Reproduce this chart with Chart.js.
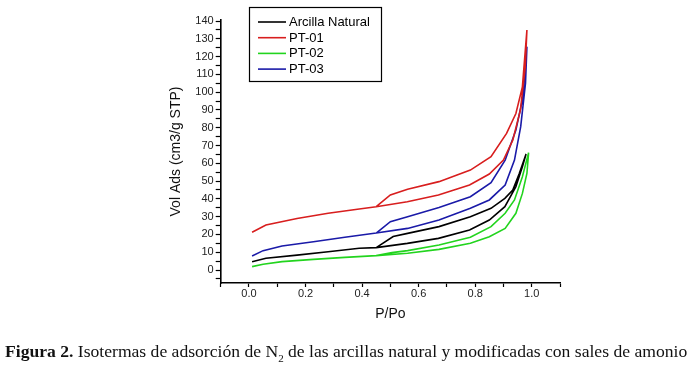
<!DOCTYPE html>
<html>
<head>
<meta charset="utf-8">
<script src="https://cdn.jsdelivr.net/npm/chart.js@4.4.1/dist/chart.umd.min.js"></script>
<style>
  html, body { margin: 0; padding: 0; background: #fff; }
  #wrap { position: relative; width: 700px; height: 367px; }
  #caption {
    position: absolute; left: 5px; top: 341px; width: 695px;
    font-family: "Liberation Serif", serif; font-size: 17.6px; color: #111;
    white-space: nowrap;
  }
</style>
</head>
<body>
<div id="wrap">
  <canvas id="isotermas" width="700" height="367"></canvas>
  <div id="caption"><b>Figura 2.</b> Isotermas de adsorción de N<sub style="font-size:11px">2</sub> de las arcillas natural y modificadas con sales de amonio</div>
</div>
<script>
// series labels and colours
const labels = ['Arcilla Natural', 'PT-01', 'PT-02', 'PT-03'];
const colores = ['#000000', '#d81e1e', '#22d41e', '#1a1aa8'];

// P/Po and Vol Ads: adsorption branch up, then desorption branch back down
const naturalP = [0.011, 0.06, 0.17, 0.28, 0.39, 0.45, 0.56, 0.67, 0.78, 0.85, 0.905, 0.944, 0.967, 0.98,
                  0.956, 0.933, 0.905, 0.856, 0.783, 0.672, 0.561, 0.51, 0.45];
const naturalV = [4.7, 6.6, 8.4, 10.3, 12.2, 12.6, 15, 17.8, 22.5, 28.1, 35.6, 46.9, 58, 65.2,
                  54.3, 45, 40.3, 34.7, 30, 24.4, 20.6, 18.8, 12.6];

const pt01P = [0.011, 0.06, 0.17, 0.28, 0.39, 0.45, 0.56, 0.67, 0.78, 0.85, 0.9, 0.933, 0.96, 0.977, 0.983,
               0.967, 0.944, 0.911, 0.856, 0.783, 0.672, 0.561, 0.5, 0.45];
const pt01V = [21.2, 25.3, 29, 31.9, 34.3, 35.6, 38.4, 42.2, 47.8, 54, 61.8, 73, 90, 114, 135,
               103, 88, 76.8, 63.7, 56.2, 49.7, 45.4, 42.2, 35.6];

const pt02P = [0.011, 0.05, 0.117, 0.228, 0.339, 0.45, 0.561, 0.672, 0.783, 0.85, 0.906, 0.944, 0.967, 0.983, 0.989,
               0.967, 0.939, 0.906, 0.856, 0.783, 0.672, 0.561, 0.506, 0.45];
const pt02V = [1.9, 3.2, 4.7, 6, 7.1, 8.1, 9.4, 11.6, 15, 18.7, 23.4, 31.9, 43.1, 54.3, 66,
               52.5, 39.4, 31.9, 24.4, 18.4, 14.1, 10.9, 9.8, 8.1];

const pt03P = [0.011, 0.05, 0.117, 0.228, 0.339, 0.45, 0.561, 0.672, 0.783, 0.85, 0.906, 0.939, 0.961, 0.978, 0.983,
               0.967, 0.944, 0.906, 0.856, 0.783, 0.672, 0.561, 0.5, 0.45];
const pt03V = [7.9, 10.9, 13.5, 15.9, 18.4, 20.8, 23.4, 28.1, 34.7, 39.4, 47.8, 61.8, 80.6, 105, 125.6,
               95.6, 78.7, 61.8, 49.1, 41.2, 35.2, 30, 27.2, 20.8];

const series = [[naturalP, naturalV], [pt01P, pt01V], [pt02P, pt02V], [pt03P, pt03V]];

const datasets = series.map((s, i) => ({
    label: labels[i],
    data: s[0].map((p, j) => ({ x: p, y: s[1][j] })),
    borderColor: colores[i],
    backgroundColor: colores[i],
    borderWidth: 1.6,
    pointRadius: 0,
    tension: 0,
    fill: false
}));

// legend box drawn inside the plot, like the original figure
const leyendaCaja = {
    id: 'leyendaCaja',
    afterDraw(chart) {
        const ctx = chart.ctx;
        ctx.save();
        ctx.strokeStyle = '#000';
        ctx.lineWidth = 1.2;
        ctx.strokeRect(249.5, 7.5, 132, 74);
        ctx.font = '13px "Liberation Sans", Arial, sans-serif';
        ctx.textBaseline = 'middle';
        chart.data.datasets.forEach((d, i) => {
            const y = 22 + i * 15.7;
            ctx.strokeStyle = d.borderColor;
            ctx.lineWidth = 1.6;
            ctx.beginPath();
            ctx.moveTo(258, y);
            ctx.lineTo(286, y);
            ctx.stroke();
            ctx.fillStyle = '#000';
            ctx.fillText(d.label, 289, y + 0.5);
        });
        ctx.restore();
    }
};

const fuente = { family: '"Liberation Sans", Arial, sans-serif', size: 11 };

new Chart(document.getElementById('isotermas'), {
    type: 'line',
    data: { datasets: datasets },
    options: {
        responsive: false,
        animation: false,
        layout: { padding: { left: 164, right: 140, top: 20, bottom: 40 } },
        plugins: {
            legend: { display: false },
            tooltip: { enabled: false }
        },
        scales: {
            x: {
                type: 'linear',
                min: -0.1,
                max: 1.1,
                afterFit: (s) => { s.height = 44; },
                border: { color: '#000', width: 1.6 },
                grid: { drawOnChartArea: false, color: '#000', tickLength: 4, tickWidth: 1.2 },
                ticks: {
                    stepSize: 0.1,
                    color: '#222',
                    font: fuente,
                    padding: 0,
                    maxRotation: 0,
                    autoSkip: false,
                    includeBounds: false,
                    callback: (v) => {
                        const k = Math.round(v * 10);
                        return (k % 2 === 0 && k >= 0 && k <= 10) ? v.toFixed(1) : '';
                    }
                },
                title: {
                    display: true,
                    text: 'P/Po',
                    color: '#111',
                    font: { family: '"Liberation Sans", Arial, sans-serif', size: 14 },
                    padding: { top: 2, bottom: 4 }
                }
            },
            y: {
                type: 'linear',
                min: -7.3,
                max: 140.6,
                afterFit: (s) => { s.width = 56.7; },
                border: { color: '#000', width: 1.6 },
                grid: { drawOnChartArea: false, color: '#000', tickLength: 5, tickWidth: 1.2 },
                ticks: {
                    stepSize: 5,
                    color: '#222',
                    font: fuente,
                    padding: 2,
                    autoSkip: false,
                    includeBounds: false,
                    callback: (v) => {
                        const k = Math.round(v);
                        return (k % 10 === 0 && k >= 0) ? String(k) : '';
                    }
                },
                title: {
                    display: true,
                    text: 'Vol Ads (cm3/g STP)',
                    color: '#111',
                    font: { family: '"Liberation Sans", Arial, sans-serif', size: 14 },
                    padding: 4
                }
            }
        }
    },
    plugins: [leyendaCaja]
});
</script>
</body>
</html>
